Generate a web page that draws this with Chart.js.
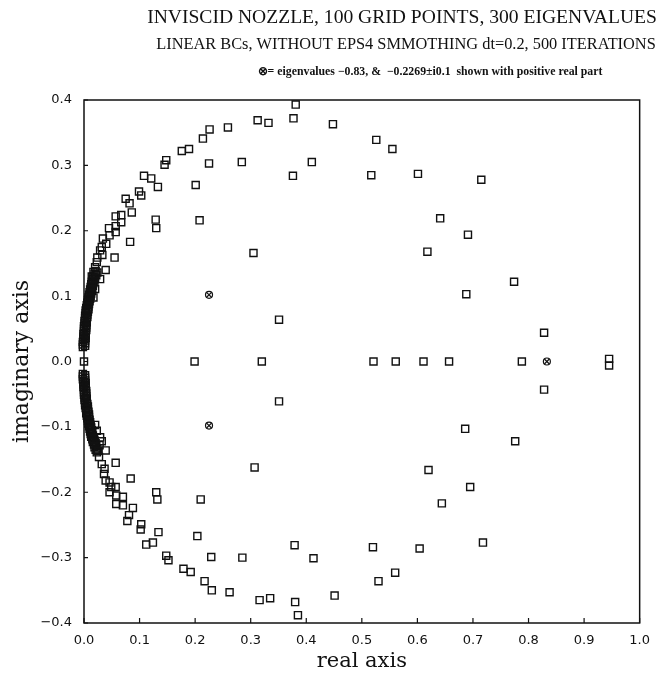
<!DOCTYPE html>
<html><head><meta charset="utf-8">
<script src="https://cdn.jsdelivr.net/npm/chart.js@4.4.0/dist/chart.umd.min.js"></script>
<style>html,body{margin:0;padding:0;background:#fff}</style>
</head><body>
<canvas id="c" width="660" height="685"></canvas>
<script>
const titleLine1 = 'INVISCID NOZZLE, 100 GRID POINTS, 300 EIGENVALUES';
const titleLine2 = 'LINEAR BCs, WITHOUT EPS4 SMMOTHING dt=0.2, 500 ITERATIONS';
const titleLine3 = '\u2297= eigenvalues \u22120.83, &  \u22120.2269\u00b1i0.1  shown with positive real part';
const xAxisTitle = 'real axis';
const yAxisTitle = 'imaginary axis';

const xTickValues = [0, 0.1, 0.2, 0.3, 0.4, 0.5, 0.6, 0.7, 0.8, 0.9, 1.0];
const xTickLabels = ['0.0','0.1','0.2','0.3','0.4','0.5','0.6','0.7','0.8','0.9','1.0'];
const yTickValues = [-0.4, -0.3, -0.2, -0.1, 0, 0.1, 0.2, 0.3, 0.4];
const yTickLabels = ['\u22120.4','\u22120.3','\u22120.2','\u22120.1','0.0','0.1','0.2','0.3','0.4'];

// upper half-plane eigenvalues (real part, imaginary part)
const upperRe = [0.381,0.377,0.332,0.3125,0.448,0.526,0.555,0.284,0.410,0.376,0.517,0.601,0.715,0.641,0.691,0.618,0.305,0.774,0.688,0.828,0.351,
  0.259,0.226,0.214,0.189,0.176,0.148,0.145,0.225,0.108,0.121,0.133,0.201,0.099,0.103,0.075,0.082,0.086,0.057,0.067,0.067,0.129,0.130,0.208,
  0.045,0.057,0.057,0.046,0.083,0.034,0.040,0.032,0.029,0.033,0.055,0.024,0.023,0.020,0.039,0.017,0.014,0.029,0.020,0.017];
const upperIm = [0.393,0.372,0.365,0.369,0.363,0.339,0.325,0.305,0.305,0.284,0.285,0.287,0.278,0.219,0.194,0.168,0.166,0.122,0.103,0.044,0.064,
  0.358,0.355,0.341,0.325,0.322,0.308,0.301,0.303,0.284,0.280,0.267,0.270,0.260,0.254,0.249,0.242,0.228,0.222,0.224,0.213,0.217,0.204,0.216,
  0.204,0.207,0.198,0.193,0.183,0.188,0.180,0.175,0.170,0.163,0.159,0.159,0.152,0.144,0.140,0.137,0.130,0.126,0.111,0.098];

// lower half-plane eigenvalues
const lowerRe = [0.385,0.380,0.335,0.316,0.451,0.530,0.560,0.285,0.413,0.379,0.520,0.604,0.718,0.644,0.695,0.620,0.307,0.776,0.686,0.828,0.351,
  0.262,0.230,0.217,0.192,0.179,0.152,0.148,0.229,0.112,0.124,0.134,0.204,0.102,0.103,0.078,0.081,0.088,0.070,0.070,0.058,0.058,0.130,0.132,0.210,
  0.057,0.046,0.049,0.046,0.039,0.084,0.036,0.037,0.032,0.057,0.027,0.023,0.039,0.028,0.032,0.029,0.023,0.020];
const lowerIm = [-0.388,-0.368,-0.362,-0.365,-0.358,-0.336,-0.323,-0.300,-0.301,-0.281,-0.284,-0.286,-0.277,-0.217,-0.192,-0.166,-0.162,-0.122,-0.103,-0.043,-0.061,
  -0.353,-0.350,-0.336,-0.322,-0.317,-0.304,-0.297,-0.299,-0.280,-0.277,-0.261,-0.267,-0.257,-0.249,-0.244,-0.235,-0.224,-0.220,-0.207,-0.218,-0.205,-0.200,-0.211,-0.211,
  -0.192,-0.200,-0.192,-0.185,-0.182,-0.179,-0.172,-0.164,-0.157,-0.155,-0.146,-0.139,-0.136,-0.128,-0.122,-0.116,-0.106,-0.097];

// dense cluster hugging the imaginary axis (upper part)
const denseUpperRe = [-0.002,0.002,-0.002,0.002,-0.002,0.002,-0.001,0.003,-0.001,0.003,-0.001,0.003,0.000,0.004,0.000,0.004,0.000,0.004,0.001,0.005,
  0.001,0.005,0.002,0.006,0.002,0.006,0.003,0.007,0.003,0.008,0.004,0.008,0.005,0.009,0.006,0.010,0.007,0.011,0.008,0.012,
  0.009,0.013,0.010,0.014,0.011,0.015,0.012,0.016,0.013,0.017,0.014,0.019,0.016,0.020,0.017,0.022,0.019,0.024,0.021];
const denseUpperIm = [0.022,0.024,0.026,0.028,0.030,0.032,0.034,0.036,0.038,0.040,0.042,0.044,0.046,0.048,0.050,0.052,0.054,0.056,0.058,0.060,
  0.062,0.064,0.066,0.068,0.070,0.072,0.074,0.076,0.078,0.080,0.082,0.084,0.086,0.088,0.090,0.092,0.094,0.096,0.098,0.100,
  0.102,0.104,0.106,0.108,0.110,0.112,0.114,0.116,0.118,0.120,0.122,0.124,0.126,0.128,0.130,0.132,0.134,0.136,0.138];
// dense cluster hugging the imaginary axis (lower part)
const denseLowerRe = [-0.002,0.002,-0.002,0.002,-0.002,0.002,-0.001,0.003,-0.001,0.003,-0.001,0.003,0.000,0.004,0.000,0.004,0.000,0.004,0.001,0.005,
  0.001,0.005,0.002,0.006,0.002,0.007,0.003,0.007,0.004,0.008,0.004,0.009,0.005,0.009,0.006,0.010,0.007,0.011,0.008,0.012,
  0.009,0.013,0.010,0.014,0.011,0.015,0.012,0.016,0.013,0.018,0.015,0.019,0.016,0.021,0.018,0.022,0.019,0.024,0.021,0.025];
const denseLowerIm = [-0.019,-0.021,-0.023,-0.025,-0.027,-0.029,-0.031,-0.033,-0.035,-0.037,-0.039,-0.041,-0.043,-0.045,-0.047,-0.049,-0.051,-0.053,-0.055,-0.057,
  -0.059,-0.061,-0.063,-0.065,-0.067,-0.069,-0.071,-0.073,-0.075,-0.077,-0.079,-0.081,-0.083,-0.085,-0.087,-0.089,-0.091,-0.093,-0.095,-0.097,
  -0.099,-0.101,-0.103,-0.105,-0.107,-0.109,-0.111,-0.113,-0.115,-0.117,-0.119,-0.121,-0.123,-0.125,-0.127,-0.129,-0.131,-0.133,-0.135,-0.137];

// eigenvalues on / near the real axis
const realAxisRe = [0.000,0.199,0.320,0.521,0.561,0.611,0.657,0.788,0.945,0.945];
const realAxisIm = [0.000,0.000,0.000,0.000,0.000,0.000,0.000,0.000,0.004,-0.006];

// eigenvalues reflected to positive real part (circled cross)
const reflectedRe = [0.225,0.225,0.833];
const reflectedIm = [0.102,-0.098,0.000];

const zip = (xs, ys) => xs.map((x, i) => ({x: x, y: ys[i]}));
const squares = [].concat(zip(upperRe, upperIm), zip(lowerRe, lowerIm), zip(denseUpperRe, denseUpperIm),
  zip(denseLowerRe, denseLowerIm), zip(realAxisRe, realAxisIm));
const reflected = zip(reflectedRe, reflectedIm);

const INK = '#111';

const framePlugin = {
  id: 'frame',
  afterDatasetsDraw(chart) {
    const {ctx, chartArea: a} = chart;
    const xs = chart.scales.x, ys = chart.scales.y;
    ctx.save();
    ctx.strokeStyle = INK;
    ctx.lineWidth = 1.5;
    ctx.strokeRect(a.left, a.top, a.right - a.left, a.bottom - a.top);
    ctx.lineWidth = 1.2;
    ctx.beginPath();
    xs.ticks.forEach(t => {
      const px = xs.getPixelForValue(t.value);
      ctx.moveTo(px, a.bottom); ctx.lineTo(px, a.bottom - 5);
    });
    ys.ticks.forEach(t => {
      const py = ys.getPixelForValue(t.value);
      ctx.moveTo(a.left, py); ctx.lineTo(a.left + 4, py);
    });
    ctx.stroke();
    ctx.restore();
  },
  afterDraw(chart) {
    const {ctx, chartArea: a} = chart;
    ctx.save();
    ctx.fillStyle = INK;
    ctx.textBaseline = 'middle';
    ctx.textAlign = 'center';
    const fit = (text, family, weight, w) => {
      ctx.font = weight + ' 100px ' + family;
      return 100 * w / ctx.measureText(text).width;
    };
    let s = fit(titleLine1, '"Liberation Serif"', 'normal', 510);
    ctx.font = 'normal ' + s + 'px "Liberation Serif"';
    ctx.fillText(titleLine1, 402, 18);
    s = fit(titleLine2, '"Liberation Serif"', 'normal', 500);
    ctx.font = 'normal ' + s + 'px "Liberation Serif"';
    ctx.fillText(titleLine2, 406, 45);
    s = fit(titleLine3, '"Liberation Serif"', 'bold', 345);
    ctx.font = 'bold ' + s + 'px "Liberation Serif"';
    ctx.fillText(titleLine3, 430, 72);

    ctx.font = 'normal 21px "DejaVu Serif"';
    ctx.fillText(xAxisTitle, (a.left + a.right) / 2, 662);
    ctx.translate(22, (a.top + a.bottom) / 2);
    ctx.rotate(-Math.PI / 2);
    ctx.font = 'normal 22px "DejaVu Serif"';
    ctx.fillText(yAxisTitle, 0, 0);
    ctx.restore();
  }
};

new Chart(document.getElementById('c'), {
  type: 'scatter',
  data: {
    datasets: [
      {data: squares, pointStyle: 'rect', radius: 5, borderColor: INK, borderWidth: 1.4,
       backgroundColor: 'rgba(0,0,0,0)', clip: false},
      {data: reflected, pointStyle: 'circle', radius: 3.5, borderColor: INK, borderWidth: 1.2,
       backgroundColor: 'rgba(0,0,0,0)', clip: false},
      {data: reflected, pointStyle: 'crossRot', radius: 3.5, borderColor: INK, borderWidth: 1.2,
       backgroundColor: 'rgba(0,0,0,0)', clip: false}
    ]
  },
  options: {
    responsive: false,
    animation: false,
    events: [],
    layout: {padding: {top: 100, right: 18, left: 0, bottom: 0}},
    plugins: {legend: {display: false}, tooltip: {enabled: false}, title: {display: false}},
    scales: {
      x: {
        type: 'linear', min: 0, max: 1.0,
        grid: {display: false, drawTicks: false}, border: {display: false},
        afterBuildTicks: s => { s.ticks = xTickValues.map(v => ({value: v})); },
        afterFit: s => { s.height = 62; },
        ticks: {padding: 10, color: INK, maxRotation: 0, autoSkip: false,
          font: {family: '"DejaVu Sans"', size: 13},
          callback: (v, i) => xTickLabels[i]}
      },
      y: {
        type: 'linear', min: -0.4, max: 0.4,
        grid: {display: false, drawTicks: false}, border: {display: false},
        afterBuildTicks: s => { s.ticks = yTickValues.map(v => ({value: v})); },
        afterFit: s => { s.width = 84; },
        ticks: {padding: 12, color: INK, autoSkip: false,
          font: {family: '"DejaVu Sans"', size: 13},
          callback: (v, i) => yTickLabels[i]}
      }
    }
  },
  plugins: [framePlugin]
});
</script>
</body></html>
